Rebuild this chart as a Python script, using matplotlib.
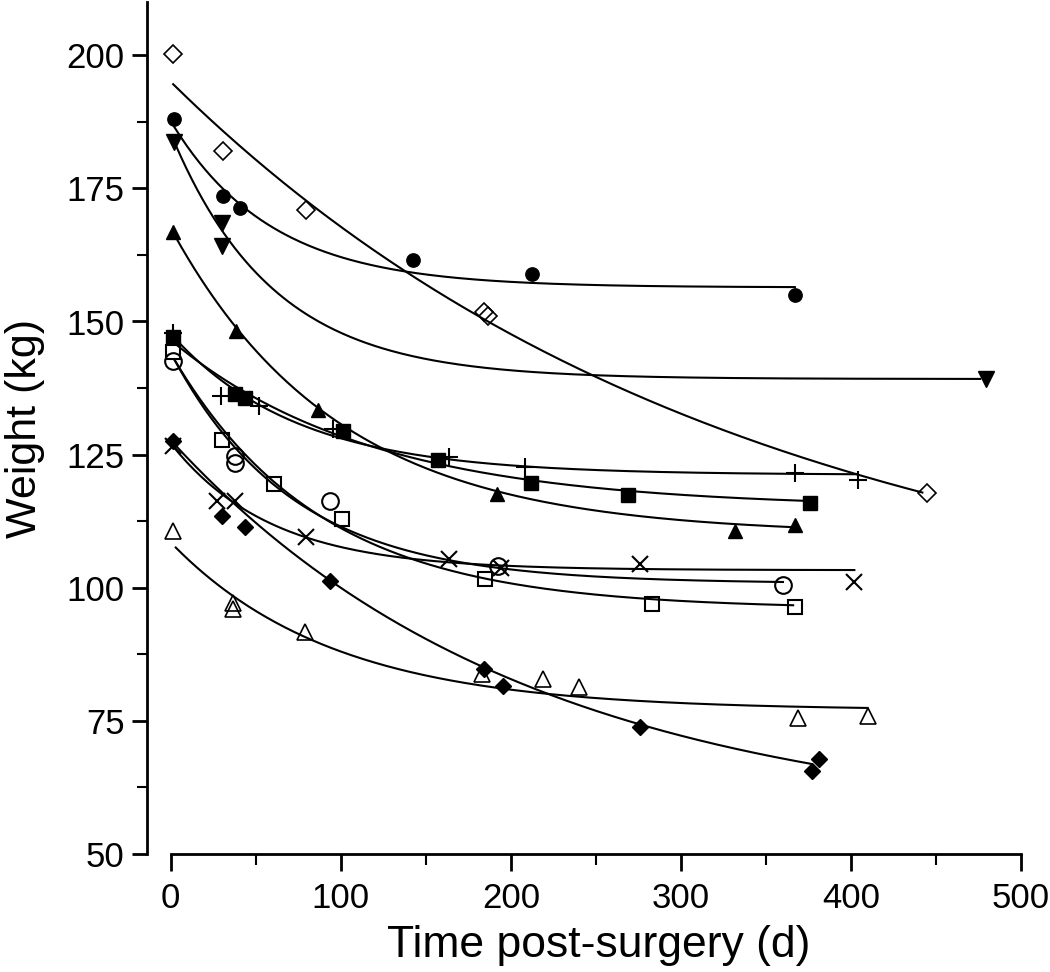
import numpy as np
import matplotlib.pyplot as plt
from matplotlib.ticker import MultipleLocator

plt.rcParams['font.family'] = ['Liberation Sans', 'DejaVu Sans']

# --- data: days post-surgery and body weight (kg) ---
# fit_* = (asymptote, amplitude, rate, first day, last day) of y = a + b*exp(-k*t)

# open diamond
d_od = [1.4, 30.8, 79.8, 184.3, 186.3, 444.5]
w_od = [200.3, 182.0, 171.0, 151.7, 151.1, 117.7]
fit_od = (90.0, 105.0, 0.0030, 1.4, 442)

# filled circle
d_fc = [2, 30.8, 40.6, 142.7, 212.5, 367.2]
w_fc = [188.1, 173.5, 171.3, 161.5, 159.0, 154.9]
fit_fc = (156.4, 31.2, 0.0170, 2, 367)

# filled down triangle
d_dt = [2, 30.4, 30.4, 479.4]
w_dt = [183.7, 168.5, 164.1, 139.2]
fit_dt = (139.2, 46.1, 0.0167, 2.9, 476)

# filled up triangle
d_ut = [1.4, 38.2, 86.3, 191.8, 331.8, 367]
w_ut = [166.8, 148.3, 133.4, 117.6, 110.7, 111.7]
fit_ut = (110.0, 57.5, 0.0102, 2.9, 367)

# filled square
d_fs = [1.4, 37.8, 43.7, 101, 156.9, 211.8, 269, 376]
w_fs = [147.0, 136.4, 135.6, 129.5, 123.9, 119.6, 117.5, 115.9]
fit_fs = (115.0, 31.5, 0.0085, 2, 375)

# plus
d_pl = [1.4, 29.4, 51.6, 95.1, 163.7, 208.2, 367, 404]
w_pl = [147.8, 136.1, 134.2, 129.8, 124.5, 122.6, 121.5, 120.2]
fit_pl = (121.2, 26.5, 0.0135, 2, 404)

# open square
d_os = [1.4, 30.4, 60.8, 100.6, 184.9, 283, 367]
w_os = [144.3, 127.7, 119.4, 112.9, 101.6, 97.0, 96.4]
fit_os = (96.0, 48.0, 0.0115, 2, 366)

# open circle
d_oc = [1.4, 37.8, 37.8, 93.7, 192.2, 360.2]
w_oc = [142.5, 124.8, 123.4, 116.2, 104.0, 100.6]
fit_oc = (100.8, 43.3, 0.0140, 2, 360)

# cross
d_cr = [1.4, 27.1, 37.8, 79.4, 163.7, 194, 276, 402]
w_cr = [126.7, 116.2, 116.2, 109.5, 105.4, 103.8, 104.5, 101.0]
fit_cr = (103.3, 23.8, 0.0170, 2, 402)

# filled diamond
d_fd = [1.4, 30.4, 43.7, 93.7, 184.3, 195.1, 276, 377, 381.4]
w_fd = [127.5, 113.5, 111.5, 101.3, 84.8, 81.6, 73.9, 65.5, 67.8]
fit_fd = (55.0, 72.7, 0.0048, 2, 376.5)

# open triangle
d_ot = [1.4, 36.7, 36.7, 78.8, 183.3, 219, 239.8, 369, 410.2]
w_ot = [110.6, 97.2, 96.0, 91.6, 83.8, 82.8, 81.4, 75.6, 75.9]
fit_ot = (77.0, 31.5, 0.0105, 2.9, 409.8)

series = [
    (d_od, w_od, fit_od, dict(marker='D', ms=9, mfc='none', mew=1.2)),
    (d_fc, w_fc, fit_fc, dict(marker='o', ms=9.6, mfc='black')),
    (d_dt, w_dt, fit_dt, dict(marker='v', ms=12, mfc='black')),
    (d_ut, w_ut, fit_ut, dict(marker='^', ms=10, mfc='black')),
    (d_fs, w_fs, fit_fs, dict(marker='s', ms=9.6, mfc='black')),
    (d_pl, w_pl, fit_pl, dict(marker='+', ms=13, mew=1.5)),
    (d_os, w_os, fit_os, dict(marker='s', ms=10.5, mfc='none', mew=1.5)),
    (d_oc, w_oc, fit_oc, dict(marker='o', ms=12, mfc='none', mew=1.5)),
    (d_cr, w_cr, fit_cr, dict(marker='x', ms=11, mew=1.5)),
    (d_fd, w_fd, fit_fd, dict(marker='D', ms=8, mfc='black')),
    (d_ot, w_ot, fit_ot, dict(marker='^', ms=11.5, mfc='none', mew=1.2)),
]

fig = plt.figure(figsize=(10.5, 9.72), dpi=100)
ax = fig.add_axes([147 / 1050, 1 - 854 / 972, 874 / 1050, 852 / 972])

for dias, peso, (a, b, k, t0, t1), estilo in series:
    t = np.linspace(t0, t1, 300)
    ax.plot(t, a + b * np.exp(-k * t), color='black', lw=1.5, zorder=2)
    ax.plot(dias, peso, ls='none', color='black', mec='black', zorder=3,
            clip_on=False, **estilo)

ax.set_xlim(-14, 500)
ax.set_ylim(50, 210)

for lado in ['top', 'right']:
    ax.spines[lado].set_visible(False)
ax.spines['left'].set_bounds(50, 210)
ax.spines['bottom'].set_bounds(0, 500)
ax.spines['left'].set_linewidth(2)
ax.spines['bottom'].set_linewidth(2)

ax.xaxis.set_major_locator(MultipleLocator(100))
ax.xaxis.set_minor_locator(MultipleLocator(50))
ax.yaxis.set_major_locator(MultipleLocator(25))
ax.yaxis.set_minor_locator(MultipleLocator(12.5))

ax.tick_params(axis='x', which='major', direction='out', length=12, width=2,
               labelsize=25, pad=8)
ax.tick_params(axis='x', which='minor', direction='out', length=8, width=1.5)
ax.tick_params(axis='y', which='major', direction='out', length=11, width=2,
               labelsize=25, pad=5)
ax.tick_params(axis='y', which='minor', direction='out', length=7, width=1.5)

fig.text(598.5 / 1050, 1 - 957 / 972, "Time post-surgery (d)", fontsize=32,
         ha='center', va='baseline')
fig.text(25 / 1050, 1 - 428.5 / 972, "Weight (kg)", fontsize=31,
         rotation=90, ha='center', va='center')

fig.savefig("out.png", dpi=100)
